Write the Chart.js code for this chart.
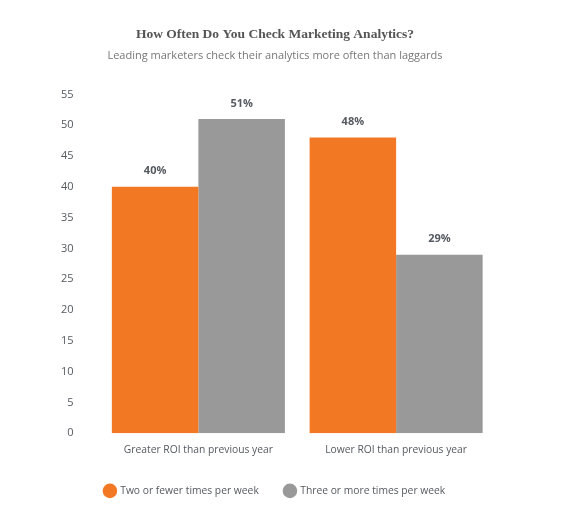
<!DOCTYPE html>
<html>
<head>
<meta charset="utf-8">
<script src="https://cdn.jsdelivr.net/npm/chart.js@4/dist/chart.umd.min.js"></script>
<style>
  html, body { margin: 0; padding: 0; background: #fff; }
  #wrap { width: 567px; height: 523px; }
</style>
</head>
<body>
<div id="wrap"><canvas id="myChart"></canvas></div>
<script>
const categories = ['Greater ROI than previous year', 'Lower ROI than previous year'];
const seriesNames = ['Two or fewer times per week', 'Three or more times per week'];
const twoOrFewer = [40, 48];
const threeOrMore = [51, 29];
const yTicks = [0, 5, 10, 15, 20, 25, 30, 35, 40, 45, 50, 55];

// percent labels over the bars
const barLabels = {
    id: 'barLabels',
    afterDatasetsDraw(chart) {
        const ctx = chart.ctx;
        ctx.save();
        ctx.font = 'bold 11px "Open Sans"';
        ctx.fillStyle = '#555a60';
        ctx.textAlign = 'center';
        ctx.textBaseline = 'bottom';
        chart.data.datasets.forEach((ds, i) => {
            chart.getDatasetMeta(i).data.forEach((bar, j) => {
                ctx.fillText(ds.data[j] + '%', bar.x, bar.y - 10);
            });
        });
        ctx.restore();
    }
};

const data = {
    labels: categories,
    datasets: [{
        label: seriesNames[0],
        data: twoOrFewer,
        backgroundColor: '#f37824',
    }, {
        label: seriesNames[1],
        data: threeOrMore,
        backgroundColor: '#999999',
    }]
};

const config = {
    type: 'bar',
    data: data,
    options: {
        responsive: true,
        maintainAspectRatio: false,
        animation: false,
        layout: { padding: { left: 55, right: 72, top: 0, bottom: 17 } },
        datasets: { bar: { categoryPercentage: 0.875, barPercentage: 1 } },
        scales: {
            x: {
                grid: { display: false },
                border: { display: false },
                ticks: { color: '#555a60', font: { family: 'Open Sans', size: 10.3 }, padding: 3 }
            },
            y: {
                min: 0,
                max: 55,
                afterBuildTicks: axis => { axis.ticks = yTicks.map(v => ({ value: v })); },
                afterFit: axis => { axis.width = 44.5; },
                grid: { display: false },
                border: { display: false },
                ticks: { color: '#555a60', font: { family: 'Open Sans', size: 11 }, padding: 18 }
            }
        },
        plugins: {
            title: {
                display: true,
                text: 'How Often Do You Check Marketing Analytics?',
                color: '#555555',
                font: { family: 'Liberation Serif', size: 13.5, weight: 'bold' },
                padding: { top: 26, bottom: 7 }
            },
            subtitle: {
                display: true,
                text: 'Leading marketers check their analytics more often than laggards',
                color: '#777777',
                font: { family: 'Open Sans', size: 11 },
                padding: { bottom: 32 }
            },
            legend: {
                position: 'bottom',
                labels: {
                    usePointStyle: true,
                    pointStyle: 'circle',
                    boxWidth: 12,
                    boxHeight: 12,
                    padding: 26,
                    color: '#555a60',
                    font: { family: 'Open Sans', size: 10.3 }
                }
            },
            tooltip: { enabled: false }
        }
    },
    plugins: [barLabels]
};

var myChart = new Chart(document.getElementById('myChart'), config);
</script>
</body>
</html>
